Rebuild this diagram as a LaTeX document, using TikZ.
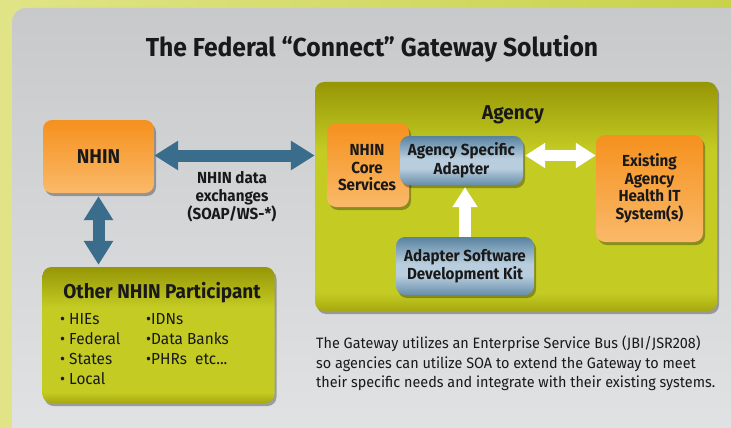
\documentclass[tikz,border=0pt]{standalone}
\usepackage{fontspec}
\usepackage{xcolor}
\usetikzlibrary{arrows.meta,shadows}
\newfontfamily\headfont[FakeStretch=0.95]{Fira Sans}
\newfontfamily\bodyfont[FakeStretch=0.96]{Fira Sans}

\definecolor{orangetop}{RGB}{245,145,30}
\definecolor{orangebot}{RGB}{250,185,105}
\definecolor{olivetop}{RGB}{150,150,6}
\definecolor{olivemid}{RGB}{196,204,36}
\definecolor{olivebot}{RGB}{166,168,14}
\definecolor{bluetop}{RGB}{88,130,160}
\definecolor{bluemid}{RGB}{184,206,222}
\definecolor{bluebot}{RGB}{104,142,170}
\definecolor{arrowblue}{RGB}{58,108,140}
\definecolor{bgleft}{RGB}{224,228,135}
\definecolor{bgright}{RGB}{200,210,75}
\definecolor{paneltop}{RGB}{200,201,203}
\definecolor{panelmid}{RGB}{242,242,243}
\definecolor{panelbot}{RGB}{226,227,229}
\definecolor{inktext}{RGB}{25,25,25}

\pgfdeclareverticalshading{olivefade}{100bp}{color(0bp)=(olivebot); color(25bp)=(olivebot);
  color(29bp)=(olivemid); color(60bp)=(olivemid); color(75bp)=(olivetop); color(100bp)=(olivetop)}
\pgfdeclareverticalshading{bluefade}{100bp}{color(0bp)=(bluebot); color(25bp)=(bluebot);
  color(42bp)=(bluemid); color(52bp)=(bluemid); color(75bp)=(bluetop); color(100bp)=(bluetop)}

\begin{document}
\begin{tikzpicture}[x=1pt,y=-1pt,
  boxshadow/.style={drop shadow={shadow xshift=2pt,shadow yshift=-3pt,opacity=0.3,fill=black}},
  orangebox/.style={rounded corners=9pt,top color=orangetop,bottom color=orangebot,boxshadow,
    inner sep=0pt,align=center,text=inktext,font=\headfont\bfseries\fontsize{16}{17.5}\selectfont},
  bluebox/.style={rounded corners=9pt,shading=bluefade,boxshadow,
    inner sep=0pt,align=center,text=inktext,font=\headfont\bfseries\fontsize{16}{18.5}\selectfont},
  olivebox/.style={rounded corners=9pt,shading=olivefade,boxshadow,inner sep=0pt},
  bluearrow/.style={line width=12pt,arrowblue,{Triangle[width=28pt,length=24pt]}-{Triangle[width=28pt,length=24pt]}},
  whitearrow/.style={line width=11pt,white,{Triangle[width=24pt,length=20pt]}-{Triangle[width=24pt,length=20pt]}},
  uparrow/.style={line width=12pt,white,-{Triangle[width=24pt,length=20pt]}}]
\useasboundingbox (0,0) rectangle (731,428);

%background
\shade [left color=bgleft,right color=bgright] (0,0) rectangle (731,428);
\shade [rounded corners=14pt,top color=paneltop,middle color=panelmid,bottom color=panelbot] (12,8) rectangle (760,450);

%title
\node [anchor=base,text=inktext,font=\headfont\bfseries\fontsize{26}{28}\selectfont] (title) at (372,57)
  {The Federal “Connect” Gateway Solution};

%NHIN
\node [orangebox,minimum width=111pt,minimum height=73pt,font=\headfont\bfseries\fontsize{20}{22}\selectfont] (nhin) at (98.5,156.5) {NHIN};

%other participant
\node [olivebox,minimum width=232pt,minimum height=136pt] (other) at (158.5,335) {};
\node [anchor=base,text=inktext,font=\headfont\bfseries\fontsize{20}{22}\selectfont] (othertitle) at (162,298) {Other NHIN Participant};
\node [anchor=north west,inner sep=0pt,align=left,text=inktext,font=\bodyfont\fontsize{16}{20}\selectfont] (listleft) at (60,313)
  {• HIEs\\ • Federal\\ • States\\ • Local};
\node [anchor=north west,inner sep=0pt,align=left,text=inktext,font=\bodyfont\fontsize{16}{20}\selectfont] (listright) at (146,313)
  {•IDNs\\ •Data Banks\\ •PHRs\ \ etc...};

%agency
\node [olivebox,minimum width=402pt,minimum height=229pt] (agency) at (516,196.5) {};
\node [anchor=base,text=inktext,font=\headfont\bfseries\fontsize{20}{22}\selectfont] (agencytitle) at (513,119) {Agency};
\node [orangebox,minimum width=82pt,minimum height=84pt] (core) at (368,165) {};
\node [align=center,text=inktext,font=\headfont\bfseries\fontsize{16}{17.5}\selectfont] (coretext) at (367,168) {NHIN\\ Core\\ Services};
\node [bluebox,minimum width=123pt,minimum height=49pt] (adapter) at (461.5,160.5) {Agency Specific\\ Adapter};
\node [orangebox,minimum width=107pt,minimum height=107pt] (existing) at (649.5,188.5) {Existing\\ Agency\\ Health IT\\ System(s)};
\node [bluebox,minimum width=138pt,minimum height=58pt] (sdk) at (465,266) {Adapter Software\\ Development Kit};

%arrows
\draw [bluearrow] ([yshift=1pt]nhin.east) -- ([yshift=1pt]nhin.east -| agency.west);
\draw [bluearrow,shorten <=3pt,shorten >=2pt] (nhin.south) -- (other.north -| nhin.south);
\draw [whitearrow,shorten <=2pt] ([yshift=5pt]adapter.east) -- ([yshift=5pt]adapter.east -| existing.west);
\draw [uparrow,shorten >=2pt] (sdk.north) -- (sdk.north |- adapter.south);

%exchange label
\node [align=center,text=inktext,font=\headfont\bfseries\fontsize{16}{18}\selectfont] (exchange) at (232,197)
  {NHIN data\\ exchanges\\ (SOAP/WS-*)};

%note
\node [anchor=north west,inner sep=0pt,align=left,text=inktext,font=\bodyfont\fontsize{15}{19.5}\selectfont] (note) at (316,336)
  {The Gateway utilizes an Enterprise Service Bus (JBI/JSR208)\\
   so agencies can utilize SOA to extend the Gateway to meet\\
   their specific needs and integrate with their existing systems.};
\end{tikzpicture}
\end{document}
